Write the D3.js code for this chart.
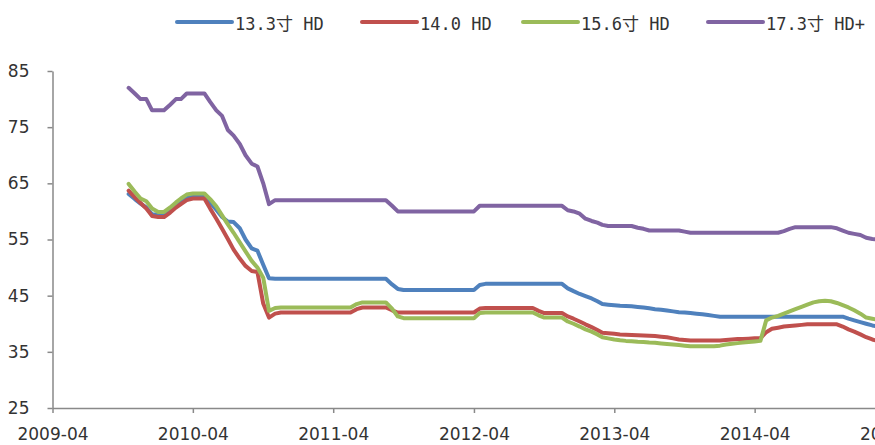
<!DOCTYPE html>
<html>
<head>
    <meta charset="utf-8">
    <script src="https://d3js.org/d3.v7.min.js"></script>
    <style>
        body { margin: 0; background: #fff; }
        .axis path, .axis line { stroke: #898989; stroke-width: 1.5px; }
        .axis text { font: 17px "DejaVu Sans", sans-serif; fill: #333; }
        .line { fill: none; stroke-width: 4px; stroke-linejoin: round; stroke-linecap: round; }
        .legend text { font: 17px "DejaVu Sans Mono", "Noto Sans CJK SC", monospace; fill: #333; }
    </style>
</head>
<body>

<svg width="875" height="445"></svg>

<script>
    // semi-monthly observations, 2009-10-16 .. 2015-02-16
    var dates = [];
    for (var m = new Date(2009, 9, 1); m <= new Date(2015, 1, 1); m = d3.timeMonth.offset(m, 1)) {
        if (dates.length > 0 || m > new Date(2009, 9, 1)) dates.push(new Date(m));
        dates.push(new Date(m.getFullYear(), m.getMonth(), 16));
    }
    dates = dates.filter(function(d) { return d >= new Date(2009, 9, 16); });

    var seriesNames = ["13.3寸 HD", "14.0 HD", "15.6寸 HD", "17.3寸 HD+"];
    var colors = ["#4f81bd", "#c0504d", "#9bbb59", "#8064a2"];

    var hd133 = [
        63.1, 62.2, 61.4, 60.7, 59.5, 59.4, 59.4, 60.2, 61.1, 61.8,
        62.5, 62.7, 62.7, 62.7, 61.6, 60.3, 59, 58.2, 58.1, 57,
        55, 53.4, 53, 50.5, 48.1, 48, 48, 48, 48, 48,
        48, 48, 48, 48, 48, 48, 48, 48, 48, 48,
        48, 48, 48, 48, 48, 47, 46.2, 46, 46, 46,
        46, 46, 46, 46, 46, 46, 46, 46, 46, 46,
        46.9, 47.1, 47.1, 47.1, 47.1, 47.1, 47.1, 47.1, 47.1, 47.1,
        47.1, 47.1, 47.1, 47.1, 47.1, 46.3, 45.8, 45.3, 44.9, 44.5,
        44, 43.5, 43.4, 43.3, 43.2, 43.15, 43.1, 43, 42.9, 42.75,
        42.6, 42.5, 42.35, 42.2, 42.05, 42, 41.9, 41.8, 41.7, 41.55,
        41.4, 41.25, 41.25, 41.25, 41.25, 41.25, 41.25, 41.25, 41.25, 41.25,
        41.25, 41.25, 41.25, 41.25, 41.25, 41.25, 41.25, 41.25, 41.25, 41.25,
        41.25, 41.25, 41.25, 40.9, 40.6, 40.3, 40, 39.7, 39.5
    ];
    var hd140 = [
        63.7, 62.5, 61.5, 60.5, 59.2, 59, 59, 59.8, 60.7, 61.3,
        62, 62.3, 62.3, 62.3, 60.5, 58.7, 56.9, 55.1, 53.2, 51.6,
        50.3, 49.4, 49.2, 43.6, 41.1, 41.8, 42, 42, 42, 42,
        42, 42, 42, 42, 42, 42, 42, 42, 42, 42.6,
        42.9, 42.9, 42.9, 42.9, 42.9, 42.4, 42, 42, 42, 42,
        42, 42, 42, 42, 42, 42, 42, 42, 42, 42,
        42.7, 42.8, 42.8, 42.8, 42.8, 42.8, 42.8, 42.8, 42.8, 42.8,
        42.3, 41.9, 41.9, 41.9, 41.9, 41.3, 40.9, 40.4, 39.9, 39.4,
        38.9, 38.4, 38.3, 38.2, 38.1, 38.05, 38, 37.95, 37.9, 37.85,
        37.8, 37.7, 37.6, 37.4, 37.2, 37.1, 37, 37, 37, 37,
        37, 37, 37.1, 37.2, 37.3, 37.3, 37.35, 37.4, 37.4, 38.5,
        39.1, 39.3, 39.5, 39.6, 39.7, 39.8, 39.9, 39.9, 39.9, 39.9,
        39.9, 39.9, 39.5, 39, 38.6, 38.1, 37.6, 37.2, 36.9
    ];
    var hd156 = [
        64.9, 63.5, 62.3, 61.8, 60.5, 59.9, 59.9, 60.7, 61.6, 62.3,
        63, 63.2, 63.2, 63.2, 62.2, 60.9, 59.3, 57.7, 56.2, 54.5,
        52.9, 51.2, 50, 48.2, 42.3, 42.8, 42.9, 42.9, 42.9, 42.9,
        42.9, 42.9, 42.9, 42.9, 42.9, 42.9, 42.9, 42.9, 42.9, 43.5,
        43.8, 43.8, 43.8, 43.8, 43.8, 42.7, 41.3, 41, 41, 41,
        41, 41, 41, 41, 41, 41, 41, 41, 41, 41,
        41.9, 42, 42, 42, 42, 42, 42, 42, 42, 42,
        41.5, 41.1, 41.1, 41.1, 41.1, 40.4, 40, 39.5, 39, 38.6,
        38.1, 37.6, 37.4, 37.2, 37.05, 36.95, 36.9, 36.8, 36.75, 36.65,
        36.6, 36.5, 36.4, 36.3, 36.2, 36.1, 36, 36, 36, 36,
        36, 36.1, 36.3, 36.45, 36.55, 36.65, 36.75, 36.85, 36.95, 40.6,
        41.1, 41.4, 41.8, 42.2, 42.6, 43, 43.4, 43.8, 44, 44.1,
        44, 43.7, 43.3, 42.9, 42.4, 41.8, 41.1, 40.9, 40.7
    ];
    var hd173 = [
        82, 81, 80, 80, 78, 78, 78, 79, 80, 80,
        81, 81, 81, 81, 79.5, 78, 77, 74.5, 73.5, 72,
        70, 68.5, 68, 65, 61.3, 62, 62, 62, 62, 62,
        62, 62, 62, 62, 62, 62, 62, 62, 62, 62,
        62, 62, 62, 62, 62, 61, 60, 60, 60, 60,
        60, 60, 60, 60, 60, 60, 60, 60, 60, 60,
        61, 61, 61, 61, 61, 61, 61, 61, 61, 61,
        61, 61, 61, 61, 61, 60.2, 60, 59.6, 58.7, 58.3,
        58, 57.6, 57.4, 57.4, 57.4, 57.4, 57.4, 57.1, 56.9, 56.6,
        56.6, 56.6, 56.6, 56.6, 56.6, 56.4, 56.2, 56.2, 56.2, 56.2,
        56.2, 56.2, 56.2, 56.2, 56.2, 56.2, 56.2, 56.2, 56.2, 56.2,
        56.2, 56.2, 56.5, 56.9, 57.2, 57.2, 57.2, 57.2, 57.2, 57.2,
        57.2, 57, 56.6, 56.2, 56, 55.8, 55.3, 55.1, 55
    ];

    var yTicks = [25, 35, 45, 55, 65, 75, 85];
    var xTicks = [2009, 2010, 2011, 2012, 2013, 2014, 2015].map(function(y) { return new Date(y, 3, 1); });

    var svg = d3.select("svg");

    var x = d3.scaleTime()
        .domain([new Date(2009, 3, 1), new Date(2015, 3, 1)])
        .range([52.5, 895]);
    var y = d3.scaleLinear()
        .domain([25, 85])
        .range([408, 71]);

    // axes
    svg.append("g")
        .attr("class", "axis")
        .attr("transform", "translate(0,408)")
        .call(d3.axisBottom(x).tickValues(xTicks).tickSize(5).tickSizeOuter(0)
            .tickFormat(d3.timeFormat("%Y-%m")))
        .selectAll("text").attr("y", 32).attr("dy", 0);

    svg.append("g")
        .attr("class", "axis")
        .attr("transform", "translate(52.5,0)")
        .call(d3.axisLeft(y).tickValues(yTicks).tickSize(5).tickSizeOuter(0).tickPadding(18));

    var line = d3.line()
        .x(function(d, i) { return x(dates[i]); })
        .y(function(d) { return y(d); });

    var all = [hd133, hd140, hd156, hd173];
    svg.selectAll(".line")
        .data(all)
        .enter().append("path")
        .attr("class", "line")
        .attr("stroke", function(d, i) { return colors[i]; })
        .attr("d", line);

    // legend
    var legendX = [177, 362, 523, 708];
    var legend = svg.selectAll(".legend")
        .data(seriesNames)
        .enter().append("g")
        .attr("class", "legend")
        .attr("transform", function(d, i) { return "translate(" + legendX[i] + ",22)"; });

    legend.append("line")
        .attr("x1", 0).attr("x2", 55)
        .attr("stroke", function(d, i) { return colors[i]; })
        .attr("stroke-width", 4)
        .attr("stroke-linecap", "round");

    legend.append("text")
        .attr("x", 58)
        .attr("y", 8)
        .text(function(d) { return d; });
</script>

</body>
</html>
